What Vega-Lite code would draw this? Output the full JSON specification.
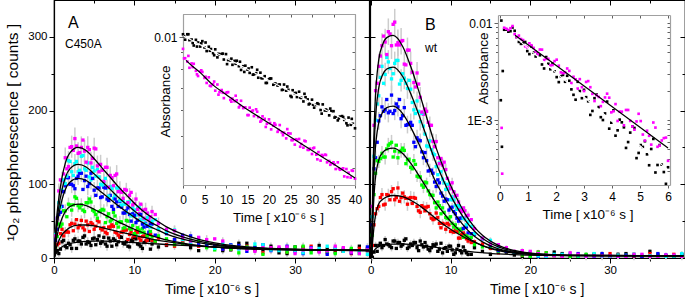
{
"$schema":"https://vega.github.io/schema/vega-lite/v6.json",
"width":631,"height":258,
"autosize":{"type":"none"},
"padding":{"left":54,"top":0,"right":0,"bottom":39},
"background":"white",
"datasets":{
"ma":[
{"s":"k","t":0.2,"v":8,"e":6},{"s":"k","t":0.6,"v":6,"e":6},{"s":"k","t":1,"v":22,"e":6},{"s":"k","t":1.4,"v":16,"e":6},{"s":"k","t":1.8,"v":20,"e":6},{"s":"k","t":2.2,"v":13,"e":6},{"s":"k","t":2.6,"v":26,"e":6},{"s":"k","t":3,"v":23,"e":6},{"s":"k","t":3.4,"v":19,"e":6},{"s":"k","t":3.8,"v":30,"e":6},{"s":"k","t":4.2,"v":22,"e":6},{"s":"k","t":4.6,"v":17,"e":6},{"s":"k","t":5,"v":27,"e":6},{"s":"k","t":5.4,"v":25,"e":6},{"s":"k","t":5.8,"v":20,"e":6},{"s":"k","t":6.2,"v":28,"e":6},{"s":"k","t":6.6,"v":16,"e":6},{"s":"k","t":7,"v":23,"e":6},{"s":"k","t":7.4,"v":26,"e":6},{"s":"k","t":7.8,"v":18,"e":6},{"s":"k","t":8.2,"v":29,"e":6},{"s":"k","t":8.6,"v":20,"e":6},{"s":"k","t":9,"v":22,"e":6},{"s":"k","t":9.4,"v":15,"e":6},{"s":"k","t":9.8,"v":24,"e":6},{"s":"k","t":10.2,"v":26,"e":6},{"s":"k","t":10.6,"v":18,"e":6},{"s":"k","t":11,"v":13,"e":6},{"s":"k","t":11.4,"v":22,"e":6},{"s":"k","t":11.8,"v":24,"e":6},{"s":"k","t":12.2,"v":19,"e":6},{"s":"k","t":13,"v":15,"e":5},{"s":"k","t":15,"v":25,"e":5},{"s":"k","t":17,"v":14,"e":5},{"s":"k","t":19,"v":16,"e":5},{"s":"k","t":21,"v":10,"e":5},{"s":"k","t":23,"v":20,"e":5},{"s":"k","t":25,"v":11,"e":5},{"s":"k","t":27,"v":16,"e":5},{"s":"k","t":29,"v":6,"e":5},{"s":"k","t":31,"v":14,"e":5},{"s":"k","t":33,"v":17,"e":5},{"s":"k","t":35,"v":8,"e":5},{"s":"k","t":37,"v":11,"e":5},{"s":"k","t":39,"v":10,"e":5},
{"s":"r","t":0.2,"v":11,"e":5},{"s":"r","t":0.6,"v":20,"e":6},{"s":"r","t":1,"v":39,"e":6},{"s":"r","t":1.4,"v":35,"e":7},{"s":"r","t":1.8,"v":35,"e":7},{"s":"r","t":2.2,"v":47,"e":7},{"s":"r","t":2.6,"v":46,"e":7},{"s":"r","t":3,"v":41,"e":7},{"s":"r","t":3.4,"v":51,"e":7},{"s":"r","t":3.8,"v":38,"e":7},{"s":"r","t":4.2,"v":45,"e":7},{"s":"r","t":4.6,"v":48,"e":7},{"s":"r","t":5,"v":39,"e":7},{"s":"r","t":5.4,"v":51,"e":7},{"s":"r","t":5.8,"v":40,"e":7},{"s":"r","t":6.2,"v":41,"e":7},{"s":"r","t":6.6,"v":33,"e":7},{"s":"r","t":7,"v":42,"e":7},{"s":"r","t":7.4,"v":43,"e":7},{"s":"r","t":7.8,"v":34,"e":7},{"s":"r","t":8.2,"v":28,"e":7},{"s":"r","t":8.6,"v":36,"e":6},{"s":"r","t":9,"v":38,"e":6},{"s":"r","t":9.4,"v":32,"e":6},{"s":"r","t":9.8,"v":27,"e":6},{"s":"r","t":10.2,"v":37,"e":6},{"s":"r","t":10.6,"v":27,"e":6},{"s":"r","t":11,"v":29,"e":6},{"s":"r","t":11.4,"v":23,"e":6},{"s":"r","t":11.8,"v":32,"e":6},{"s":"r","t":12.2,"v":24,"e":6},{"s":"r","t":13,"v":27,"e":5},{"s":"r","t":15,"v":16,"e":5},{"s":"r","t":17,"v":19,"e":5},{"s":"r","t":19,"v":20,"e":5},{"s":"r","t":21,"v":12,"e":5},{"s":"r","t":23,"v":13,"e":5},{"s":"r","t":25,"v":12,"e":5},{"s":"r","t":27,"v":13,"e":5},{"s":"r","t":29,"v":8,"e":5},{"s":"r","t":31,"v":15,"e":5},{"s":"r","t":33,"v":9,"e":5},{"s":"r","t":35,"v":11,"e":5},{"s":"r","t":37,"v":6,"e":5},{"s":"r","t":39,"v":13,"e":5},
{"s":"g","t":0.2,"v":15,"e":6},{"s":"g","t":0.6,"v":46,"e":7},{"s":"g","t":1,"v":46,"e":8},{"s":"g","t":1.4,"v":64,"e":9},{"s":"g","t":1.8,"v":73,"e":9},{"s":"g","t":2.2,"v":65,"e":9},{"s":"g","t":2.6,"v":83,"e":9},{"s":"g","t":3,"v":71,"e":9},{"s":"g","t":3.4,"v":72,"e":9},{"s":"g","t":3.8,"v":63,"e":9},{"s":"g","t":4.2,"v":75,"e":9},{"s":"g","t":4.6,"v":76,"e":9},{"s":"g","t":5,"v":63,"e":9},{"s":"g","t":5.4,"v":54,"e":9},{"s":"g","t":5.8,"v":64,"e":9},{"s":"g","t":6.2,"v":65,"e":8},{"s":"g","t":6.6,"v":56,"e":8},{"s":"g","t":7,"v":50,"e":8},{"s":"g","t":7.4,"v":62,"e":8},{"s":"g","t":7.8,"v":47,"e":8},{"s":"g","t":8.2,"v":49,"e":8},{"s":"g","t":8.6,"v":40,"e":7},{"s":"g","t":9,"v":51,"e":7},{"s":"g","t":9.4,"v":40,"e":7},{"s":"g","t":9.8,"v":44,"e":7},{"s":"g","t":10.2,"v":31,"e":7},{"s":"g","t":10.6,"v":38,"e":7},{"s":"g","t":11,"v":40,"e":6},{"s":"g","t":11.4,"v":30,"e":6},{"s":"g","t":11.8,"v":32,"e":6},{"s":"g","t":12.2,"v":29,"e":6},{"s":"g","t":13,"v":30,"e":6},{"s":"g","t":15,"v":18,"e":5},{"s":"g","t":17,"v":24,"e":5},{"s":"g","t":19,"v":14,"e":5},{"s":"g","t":21,"v":15,"e":5},{"s":"g","t":23,"v":7,"e":5},{"s":"g","t":25,"v":15,"e":5},{"s":"g","t":27,"v":12,"e":5},{"s":"g","t":29,"v":8,"e":5},{"s":"g","t":31,"v":16,"e":5},{"s":"g","t":33,"v":10,"e":5},{"s":"g","t":35,"v":6,"e":5},{"s":"g","t":37,"v":13,"e":5},{"s":"g","t":39,"v":12,"e":5},
{"s":"b","t":0.2,"v":24,"e":6},{"s":"b","t":0.6,"v":59,"e":9},{"s":"b","t":1,"v":70,"e":10},{"s":"b","t":1.4,"v":98,"e":11},{"s":"b","t":1.8,"v":109,"e":12},{"s":"b","t":2.2,"v":100,"e":12},{"s":"b","t":2.6,"v":94,"e":12},{"s":"b","t":3,"v":111,"e":12},{"s":"b","t":3.4,"v":115,"e":12},{"s":"b","t":3.8,"v":105,"e":12},{"s":"b","t":4.2,"v":97,"e":12},{"s":"b","t":4.6,"v":115,"e":12},{"s":"b","t":5,"v":92,"e":11},{"s":"b","t":5.4,"v":95,"e":11},{"s":"b","t":5.8,"v":82,"e":11},{"s":"b","t":6.2,"v":96,"e":11},{"s":"b","t":6.6,"v":80,"e":10},{"s":"b","t":7,"v":85,"e":10},{"s":"b","t":7.4,"v":66,"e":10},{"s":"b","t":7.8,"v":76,"e":9},{"s":"b","t":8.2,"v":77,"e":9},{"s":"b","t":8.6,"v":61,"e":9},{"s":"b","t":9,"v":64,"e":9},{"s":"b","t":9.4,"v":59,"e":8},{"s":"b","t":9.8,"v":60,"e":8},{"s":"b","t":10.2,"v":48,"e":8},{"s":"b","t":10.6,"v":59,"e":8},{"s":"b","t":11,"v":46,"e":8},{"s":"b","t":11.4,"v":47,"e":7},{"s":"b","t":11.8,"v":35,"e":7},{"s":"b","t":12.2,"v":46,"e":7},{"s":"b","t":13,"v":39,"e":7},{"s":"b","t":15,"v":25,"e":6},{"s":"b","t":17,"v":30,"e":6},{"s":"b","t":19,"v":18,"e":5},{"s":"b","t":21,"v":12,"e":5},{"s":"b","t":23,"v":17,"e":5},{"s":"b","t":25,"v":14,"e":5},{"s":"b","t":27,"v":10,"e":5},{"s":"b","t":29,"v":16,"e":5},{"s":"b","t":31,"v":6,"e":5},{"s":"b","t":33,"v":11,"e":5},{"s":"b","t":35,"v":13,"e":5},{"s":"b","t":37,"v":7,"e":5},{"s":"b","t":39,"v":15,"e":5},
{"s":"c","t":0.2,"v":32,"e":7},{"s":"c","t":0.6,"v":75,"e":9},{"s":"c","t":1,"v":92,"e":11},{"s":"c","t":1.4,"v":101,"e":12},{"s":"c","t":1.8,"v":132,"e":13},{"s":"c","t":2.2,"v":117,"e":13},{"s":"c","t":2.6,"v":128,"e":13},{"s":"c","t":3,"v":117,"e":14},{"s":"c","t":3.4,"v":138,"e":13},{"s":"c","t":3.8,"v":121,"e":13},{"s":"c","t":4.2,"v":129,"e":13},{"s":"c","t":4.6,"v":106,"e":13},{"s":"c","t":5,"v":118,"e":13},{"s":"c","t":5.4,"v":120,"e":12},{"s":"c","t":5.8,"v":100,"e":12},{"s":"c","t":6.2,"v":102,"e":12},{"s":"c","t":6.6,"v":95,"e":11},{"s":"c","t":7,"v":97,"e":11},{"s":"c","t":7.4,"v":81,"e":11},{"s":"c","t":7.8,"v":95,"e":10},{"s":"c","t":8.2,"v":78,"e":10},{"s":"c","t":8.6,"v":78,"e":10},{"s":"c","t":9,"v":62,"e":9},{"s":"c","t":9.4,"v":76,"e":9},{"s":"c","t":9.8,"v":68,"e":9},{"s":"c","t":10.2,"v":58,"e":9},{"s":"c","t":10.6,"v":69,"e":8},{"s":"c","t":11,"v":54,"e":8},{"s":"c","t":11.4,"v":46,"e":8},{"s":"c","t":11.8,"v":55,"e":8},{"s":"c","t":12.2,"v":50,"e":7},{"s":"c","t":13,"v":39,"e":7},{"s":"c","t":15,"v":38,"e":6},{"s":"c","t":17,"v":20,"e":6},{"s":"c","t":19,"v":21,"e":5},{"s":"c","t":21,"v":20,"e":5},{"s":"c","t":23,"v":12,"e":5},{"s":"c","t":25,"v":19,"e":5},{"s":"c","t":27,"v":11,"e":5},{"s":"c","t":29,"v":12,"e":5},{"s":"c","t":31,"v":7,"e":5},{"s":"c","t":33,"v":13,"e":5},{"s":"c","t":35,"v":14,"e":5},{"s":"c","t":37,"v":9,"e":5},{"s":"c","t":39,"v":5,"e":5},
{"s":"m","t":0.2,"v":30,"e":7},{"s":"m","t":0.6,"v":91,"e":10},{"s":"m","t":1,"v":105,"e":12},{"s":"m","t":1.4,"v":136,"e":14},{"s":"m","t":1.8,"v":124,"e":15},{"s":"m","t":2.2,"v":151,"e":15},{"s":"m","t":2.6,"v":162,"e":15},{"s":"m","t":3,"v":142,"e":15},{"s":"m","t":3.4,"v":150,"e":15},{"s":"m","t":3.8,"v":145,"e":15},{"s":"m","t":4.2,"v":150,"e":15},{"s":"m","t":4.6,"v":129,"e":15},{"s":"m","t":5,"v":149,"e":14},{"s":"m","t":5.4,"v":125,"e":14},{"s":"m","t":5.8,"v":127,"e":13},{"s":"m","t":6.2,"v":104,"e":13},{"s":"m","t":6.6,"v":123,"e":13},{"s":"m","t":7,"v":112,"e":12},{"s":"m","t":7.4,"v":98,"e":12},{"s":"m","t":7.8,"v":114,"e":12},{"s":"m","t":8.2,"v":93,"e":11},{"s":"m","t":8.6,"v":81,"e":11},{"s":"m","t":9,"v":92,"e":10},{"s":"m","t":9.4,"v":85,"e":10},{"s":"m","t":9.8,"v":72,"e":10},{"s":"m","t":10.2,"v":80,"e":9},{"s":"m","t":10.6,"v":60,"e":9},{"s":"m","t":11,"v":65,"e":9},{"s":"m","t":11.4,"v":66,"e":9},{"s":"m","t":11.8,"v":52,"e":8},{"s":"m","t":12.2,"v":63,"e":8},{"s":"m","t":13,"v":47,"e":8},{"s":"m","t":15,"v":37,"e":7},{"s":"m","t":17,"v":23,"e":6},{"s":"m","t":19,"v":25,"e":6},{"s":"m","t":21,"v":23,"e":5},{"s":"m","t":23,"v":14,"e":5},{"s":"m","t":25,"v":9,"e":5},{"s":"m","t":27,"v":14,"e":5},{"s":"m","t":29,"v":15,"e":5},{"s":"m","t":31,"v":11,"e":5},{"s":"m","t":33,"v":8,"e":5},{"s":"m","t":35,"v":16,"e":5},{"s":"m","t":37,"v":8,"e":5},{"s":"m","t":39,"v":11,"e":5}
],
"ma2":[
{"s":"k","t":0.4,"v":10},{"s":"k","t":0.8,"v":12},{"s":"k","t":1.2,"v":24},{"s":"k","t":1.6,"v":14},{"s":"k","t":2,"v":18},{"s":"k","t":2.4,"v":24},{"s":"k","t":2.8,"v":13},{"s":"k","t":3.2,"v":23},{"s":"k","t":3.6,"v":28},{"s":"k","t":4,"v":19},{"s":"k","t":4.4,"v":21},{"s":"k","t":4.8,"v":26},{"s":"k","t":5.2,"v":18},{"s":"k","t":5.6,"v":30},{"s":"k","t":6,"v":22},{"s":"k","t":6.4,"v":19},{"s":"k","t":6.8,"v":27},{"s":"k","t":7.2,"v":16},{"s":"k","t":7.6,"v":24},{"s":"k","t":8,"v":22},{"s":"k","t":8.4,"v":28},{"s":"k","t":8.8,"v":19},{"s":"k","t":9.2,"v":16},{"s":"k","t":9.6,"v":24},{"s":"k","t":10,"v":28},{"s":"k","t":10.4,"v":19},{"s":"k","t":10.8,"v":16},{"s":"k","t":11.2,"v":21},{"s":"k","t":11.6,"v":24},{"s":"k","t":12,"v":12},{"s":"k","t":12.6,"v":22},{"s":"k","t":14,"v":17},{"s":"k","t":16,"v":22},{"s":"k","t":18,"v":10},{"s":"k","t":20,"v":17},{"s":"k","t":22,"v":11},{"s":"k","t":24,"v":20},{"s":"k","t":26,"v":11},{"s":"k","t":28,"v":7},{"s":"k","t":30,"v":15},{"s":"k","t":32,"v":11},{"s":"k","t":34,"v":12},{"s":"k","t":36,"v":9},{"s":"k","t":38,"v":16},
{"s":"r","t":0.4,"v":18},{"s":"r","t":0.8,"v":33},{"s":"r","t":1.2,"v":30},{"s":"r","t":1.6,"v":36},{"s":"r","t":2,"v":45},{"s":"r","t":2.4,"v":37},{"s":"r","t":2.8,"v":52},{"s":"r","t":3.2,"v":44},{"s":"r","t":3.6,"v":41},{"s":"r","t":4,"v":50},{"s":"r","t":4.4,"v":36},{"s":"r","t":4.8,"v":46},{"s":"r","t":5.2,"v":43},{"s":"r","t":5.6,"v":49},{"s":"r","t":6,"v":38},{"s":"r","t":6.4,"v":35},{"s":"r","t":6.8,"v":42},{"s":"r","t":7.2,"v":45},{"s":"r","t":7.6,"v":35},{"s":"r","t":8,"v":31},{"s":"r","t":8.4,"v":35},{"s":"r","t":8.8,"v":38},{"s":"r","t":9.2,"v":25},{"s":"r","t":9.6,"v":35},{"s":"r","t":10,"v":30},{"s":"r","t":10.4,"v":35},{"s":"r","t":10.8,"v":24},{"s":"r","t":11.2,"v":30},{"s":"r","t":11.6,"v":24},{"s":"r","t":12,"v":32},{"s":"r","t":12.6,"v":23},{"s":"r","t":14,"v":18},{"s":"r","t":16,"v":22},{"s":"r","t":18,"v":16},{"s":"r","t":20,"v":16},{"s":"r","t":22,"v":12},{"s":"r","t":24,"v":16},{"s":"r","t":26,"v":7},{"s":"r","t":28,"v":13},{"s":"r","t":30,"v":10},{"s":"r","t":32,"v":16},{"s":"r","t":34,"v":7},{"s":"r","t":36,"v":9},{"s":"r","t":38,"v":13},
{"s":"g","t":0.4,"v":29},{"s":"g","t":0.8,"v":43},{"s":"g","t":1.2,"v":64},{"s":"g","t":1.6,"v":56},{"s":"g","t":2,"v":72},{"s":"g","t":2.4,"v":72},{"s":"g","t":2.8,"v":81},{"s":"g","t":3.2,"v":68},{"s":"g","t":3.6,"v":65},{"s":"g","t":4,"v":75},{"s":"g","t":4.4,"v":80},{"s":"g","t":4.8,"v":65},{"s":"g","t":5.2,"v":59},{"s":"g","t":5.6,"v":63},{"s":"g","t":6,"v":66},{"s":"g","t":6.4,"v":48},{"s":"g","t":6.8,"v":60},{"s":"g","t":7.2,"v":52},{"s":"g","t":7.6,"v":57},{"s":"g","t":8,"v":42},{"s":"g","t":8.4,"v":49},{"s":"g","t":8.8,"v":41},{"s":"g","t":9.2,"v":50},{"s":"g","t":9.6,"v":39},{"s":"g","t":10,"v":33},{"s":"g","t":10.4,"v":41},{"s":"g","t":10.8,"v":35},{"s":"g","t":11.2,"v":35},{"s":"g","t":11.6,"v":30},{"s":"g","t":12,"v":36},{"s":"g","t":12.6,"v":23},{"s":"g","t":14,"v":26},{"s":"g","t":16,"v":19},{"s":"g","t":18,"v":23},{"s":"g","t":20,"v":11},{"s":"g","t":22,"v":12},{"s":"g","t":24,"v":15},{"s":"g","t":26,"v":5},{"s":"g","t":28,"v":12},{"s":"g","t":30,"v":15},{"s":"g","t":32,"v":7},{"s":"g","t":34,"v":9},{"s":"g","t":36,"v":13},{"s":"g","t":38,"v":6},
{"s":"b","t":0.4,"v":39},{"s":"b","t":0.8,"v":62},{"s":"b","t":1.2,"v":90},{"s":"b","t":1.6,"v":109},{"s":"b","t":2,"v":100},{"s":"b","t":2.4,"v":98},{"s":"b","t":2.8,"v":108},{"s":"b","t":3.2,"v":115},{"s":"b","t":3.6,"v":93},{"s":"b","t":4,"v":111},{"s":"b","t":4.4,"v":101},{"s":"b","t":4.8,"v":108},{"s":"b","t":5.2,"v":85},{"s":"b","t":5.6,"v":95},{"s":"b","t":6,"v":83},{"s":"b","t":6.4,"v":95},{"s":"b","t":6.8,"v":78},{"s":"b","t":7.2,"v":70},{"s":"b","t":7.6,"v":80},{"s":"b","t":8,"v":70},{"s":"b","t":8.4,"v":69},{"s":"b","t":8.8,"v":61},{"s":"b","t":9.2,"v":68},{"s":"b","t":9.6,"v":50},{"s":"b","t":10,"v":58},{"s":"b","t":10.4,"v":51},{"s":"b","t":10.8,"v":59},{"s":"b","t":11.2,"v":42},{"s":"b","t":11.6,"v":43},{"s":"b","t":12,"v":46},{"s":"b","t":12.6,"v":31},{"s":"b","t":14,"v":33},{"s":"b","t":16,"v":31},{"s":"b","t":18,"v":18},{"s":"b","t":20,"v":16},{"s":"b","t":22,"v":18},{"s":"b","t":24,"v":9},{"s":"b","t":26,"v":18},{"s":"b","t":28,"v":12},{"s":"b","t":30,"v":9},{"s":"b","t":32,"v":14},{"s":"b","t":34,"v":5},{"s":"b","t":36,"v":11},{"s":"b","t":38,"v":10},
{"s":"c","t":0.4,"v":54},{"s":"c","t":0.8,"v":69},{"s":"c","t":1.2,"v":106},{"s":"c","t":1.6,"v":111},{"s":"c","t":2,"v":131},{"s":"c","t":2.4,"v":112},{"s":"c","t":2.8,"v":131},{"s":"c","t":3.2,"v":119},{"s":"c","t":3.6,"v":139},{"s":"c","t":4,"v":119},{"s":"c","t":4.4,"v":110},{"s":"c","t":4.8,"v":123},{"s":"c","t":5.2,"v":111},{"s":"c","t":5.6,"v":110},{"s":"c","t":6,"v":99},{"s":"c","t":6.4,"v":108},{"s":"c","t":6.8,"v":84},{"s":"c","t":7.2,"v":94},{"s":"c","t":7.6,"v":85},{"s":"c","t":8,"v":95},{"s":"c","t":8.4,"v":72},{"s":"c","t":8.8,"v":73},{"s":"c","t":9.2,"v":76},{"s":"c","t":9.6,"v":57},{"s":"c","t":10,"v":65},{"s":"c","t":10.4,"v":68},{"s":"c","t":10.8,"v":52},{"s":"c","t":11.2,"v":52},{"s":"c","t":11.6,"v":55},{"s":"c","t":12,"v":42},{"s":"c","t":12.6,"v":52},{"s":"c","t":14,"v":36},{"s":"c","t":16,"v":25},{"s":"c","t":18,"v":27},{"s":"c","t":20,"v":13},{"s":"c","t":22,"v":17},{"s":"c","t":24,"v":14},{"s":"c","t":26,"v":18},{"s":"c","t":28,"v":10},{"s":"c","t":30,"v":8},{"s":"c","t":32,"v":13},{"s":"c","t":34,"v":16},{"s":"c","t":36,"v":9},{"s":"c","t":38,"v":7},
{"s":"m","t":0.4,"v":54},{"s":"m","t":0.8,"v":106},{"s":"m","t":1.2,"v":114},{"s":"m","t":1.6,"v":121},{"s":"m","t":2,"v":150},{"s":"m","t":2.4,"v":146},{"s":"m","t":2.8,"v":152},{"s":"m","t":3.2,"v":143},{"s":"m","t":3.6,"v":160},{"s":"m","t":4,"v":130},{"s":"m","t":4.4,"v":147},{"s":"m","t":4.8,"v":135},{"s":"m","t":5.2,"v":148},{"s":"m","t":5.6,"v":117},{"s":"m","t":6,"v":119},{"s":"m","t":6.4,"v":123},{"s":"m","t":6.8,"v":96},{"s":"m","t":7.2,"v":109},{"s":"m","t":7.6,"v":112},{"s":"m","t":8,"v":90},{"s":"m","t":8.4,"v":89},{"s":"m","t":8.8,"v":93},{"s":"m","t":9.2,"v":75},{"s":"m","t":9.6,"v":89},{"s":"m","t":10,"v":74},{"s":"m","t":10.4,"v":66},{"s":"m","t":10.8,"v":73},{"s":"m","t":11.2,"v":54},{"s":"m","t":11.6,"v":61},{"s":"m","t":12,"v":56},{"s":"m","t":12.6,"v":59},{"s":"m","t":14,"v":39},{"s":"m","t":16,"v":28},{"s":"m","t":18,"v":28},{"s":"m","t":20,"v":26},{"s":"m","t":22,"v":16},{"s":"m","t":24,"v":12},{"s":"m","t":26,"v":14},{"s":"m","t":28,"v":15},{"s":"m","t":30,"v":6},{"s":"m","t":32,"v":13},{"s":"m","t":34,"v":10},{"s":"m","t":36,"v":14},{"s":"m","t":38,"v":6}
],
"mb":[
{"s":"k","t":0.2,"v":1,"e":5},{"s":"k","t":0.6,"v":17,"e":5},{"s":"k","t":1,"v":17,"e":5},{"s":"k","t":1.4,"v":14,"e":5},{"s":"k","t":1.8,"v":25,"e":5},{"s":"k","t":2.2,"v":18,"e":5},{"s":"k","t":2.6,"v":14,"e":5},{"s":"k","t":3,"v":23,"e":5},{"s":"k","t":3.4,"v":21,"e":5},{"s":"k","t":3.8,"v":16,"e":5},{"s":"k","t":4.2,"v":24,"e":5},{"s":"k","t":4.6,"v":13,"e":5},{"s":"k","t":5,"v":19,"e":5},{"s":"k","t":5.4,"v":21,"e":5},{"s":"k","t":5.8,"v":14,"e":5},{"s":"k","t":6.2,"v":23,"e":5},{"s":"k","t":6.6,"v":15,"e":5},{"s":"k","t":7,"v":16,"e":5},{"s":"k","t":7.4,"v":10,"e":5},{"s":"k","t":7.8,"v":18,"e":5},{"s":"k","t":8.2,"v":19,"e":5},{"s":"k","t":8.6,"v":12,"e":5},{"s":"k","t":9,"v":7,"e":5},{"s":"k","t":9.4,"v":14,"e":5},{"s":"k","t":9.8,"v":16,"e":5},{"s":"k","t":10.2,"v":11,"e":5},{"s":"k","t":10.6,"v":7,"e":5},{"s":"k","t":11,"v":17,"e":5},{"s":"k","t":11.4,"v":7,"e":5},{"s":"k","t":11.8,"v":10,"e":5},{"s":"k","t":12.2,"v":5,"e":5},{"s":"k","t":13,"v":14,"e":3},{"s":"k","t":15,"v":5,"e":3},{"s":"k","t":17,"v":8,"e":3},{"s":"k","t":19,"v":0,"e":3},{"s":"k","t":21,"v":6,"e":3},{"s":"k","t":23,"v":8,"e":3},{"s":"k","t":25,"v":0,"e":3},{"s":"k","t":27,"v":4,"e":3},{"s":"k","t":29,"v":2,"e":3},{"s":"k","t":31,"v":5,"e":3},{"s":"k","t":33,"v":0,"e":3},{"s":"k","t":35,"v":9,"e":3},{"s":"k","t":37,"v":1,"e":3},{"s":"k","t":39,"v":4,"e":3},
{"s":"r","t":0.2,"v":17,"e":4},{"s":"r","t":0.6,"v":60,"e":7},{"s":"r","t":1,"v":70,"e":8},{"s":"r","t":1.4,"v":86,"e":9},{"s":"r","t":1.8,"v":73,"e":9},{"s":"r","t":2.2,"v":85,"e":9},{"s":"r","t":2.6,"v":90,"e":9},{"s":"r","t":3,"v":79,"e":9},{"s":"r","t":3.4,"v":95,"e":9},{"s":"r","t":3.8,"v":82,"e":9},{"s":"r","t":4.2,"v":83,"e":9},{"s":"r","t":4.6,"v":73,"e":9},{"s":"r","t":5,"v":82,"e":9},{"s":"r","t":5.4,"v":82,"e":8},{"s":"r","t":5.8,"v":70,"e":8},{"s":"r","t":6.2,"v":62,"e":8},{"s":"r","t":6.6,"v":69,"e":8},{"s":"r","t":7,"v":69,"e":7},{"s":"r","t":7.4,"v":60,"e":7},{"s":"r","t":7.8,"v":52,"e":7},{"s":"r","t":8.2,"v":61,"e":7},{"s":"r","t":8.6,"v":47,"e":6},{"s":"r","t":9,"v":47,"e":6},{"s":"r","t":9.4,"v":39,"e":6},{"s":"r","t":9.8,"v":45,"e":6},{"s":"r","t":10.2,"v":36,"e":5},{"s":"r","t":10.6,"v":38,"e":5},{"s":"r","t":11,"v":27,"e":5},{"s":"r","t":11.4,"v":32,"e":5},{"s":"r","t":11.8,"v":31,"e":5},{"s":"r","t":12.2,"v":23,"e":4},{"s":"r","t":13,"v":22,"e":4},{"s":"r","t":15,"v":13,"e":3},{"s":"r","t":17,"v":10,"e":3},{"s":"r","t":19,"v":4,"e":3},{"s":"r","t":21,"v":8,"e":3},{"s":"r","t":23,"v":3,"e":3},{"s":"r","t":25,"v":4,"e":3},{"s":"r","t":27,"v":0,"e":3},{"s":"r","t":29,"v":5,"e":3},{"s":"r","t":31,"v":4,"e":3},{"s":"r","t":33,"v":2,"e":3},{"s":"r","t":35,"v":6,"e":3},{"s":"r","t":37,"v":3,"e":3},{"s":"r","t":39,"v":1,"e":3},
{"s":"g","t":0.2,"v":31,"e":4},{"s":"g","t":0.6,"v":115,"e":8},{"s":"g","t":1,"v":131,"e":9},{"s":"g","t":1.4,"v":142,"e":10},{"s":"g","t":1.8,"v":137,"e":10},{"s":"g","t":2.2,"v":153,"e":10},{"s":"g","t":2.6,"v":157,"e":10},{"s":"g","t":3,"v":145,"e":10},{"s":"g","t":3.4,"v":136,"e":10},{"s":"g","t":3.8,"v":146,"e":10},{"s":"g","t":4.2,"v":146,"e":10},{"s":"g","t":4.6,"v":133,"e":9},{"s":"g","t":5,"v":123,"e":9},{"s":"g","t":5.4,"v":132,"e":9},{"s":"g","t":5.8,"v":111,"e":8},{"s":"g","t":6.2,"v":110,"e":8},{"s":"g","t":6.6,"v":96,"e":8},{"s":"g","t":7,"v":102,"e":7},{"s":"g","t":7.4,"v":86,"e":7},{"s":"g","t":7.8,"v":85,"e":7},{"s":"g","t":8.2,"v":68,"e":6},{"s":"g","t":8.6,"v":71,"e":6},{"s":"g","t":9,"v":68,"e":6},{"s":"g","t":9.4,"v":55,"e":5},{"s":"g","t":9.8,"v":53,"e":5},{"s":"g","t":10.2,"v":47,"e":5},{"s":"g","t":10.6,"v":45,"e":5},{"s":"g","t":11,"v":35,"e":4},{"s":"g","t":11.4,"v":39,"e":4},{"s":"g","t":11.8,"v":30,"e":4},{"s":"g","t":12.2,"v":28,"e":4},{"s":"g","t":13,"v":18,"e":4},{"s":"g","t":15,"v":15,"e":3},{"s":"g","t":17,"v":9,"e":3},{"s":"g","t":19,"v":4,"e":3},{"s":"g","t":21,"v":8,"e":3},{"s":"g","t":23,"v":3,"e":3},{"s":"g","t":25,"v":1,"e":3},{"s":"g","t":27,"v":5,"e":3},{"s":"g","t":29,"v":4,"e":3},{"s":"g","t":31,"v":2,"e":3},{"s":"g","t":33,"v":5,"e":3},{"s":"g","t":35,"v":0,"e":3},{"s":"g","t":37,"v":3,"e":3},{"s":"g","t":39,"v":4,"e":3},
{"s":"b","t":0.2,"v":45,"e":5},{"s":"b","t":0.6,"v":136,"e":10},{"s":"b","t":1,"v":186,"e":12},{"s":"b","t":1.4,"v":205,"e":13},{"s":"b","t":1.8,"v":201,"e":13},{"s":"b","t":2.2,"v":197,"e":13},{"s":"b","t":2.6,"v":221,"e":13},{"s":"b","t":3,"v":200,"e":13},{"s":"b","t":3.4,"v":205,"e":13},{"s":"b","t":3.8,"v":189,"e":13},{"s":"b","t":4.2,"v":204,"e":12},{"s":"b","t":4.6,"v":181,"e":12},{"s":"b","t":5,"v":184,"e":12},{"s":"b","t":5.4,"v":157,"e":11},{"s":"b","t":5.8,"v":163,"e":11},{"s":"b","t":6.2,"v":159,"e":10},{"s":"b","t":6.6,"v":136,"e":10},{"s":"b","t":7,"v":132,"e":9},{"s":"b","t":7.4,"v":119,"e":9},{"s":"b","t":7.8,"v":115,"e":8},{"s":"b","t":8.2,"v":97,"e":8},{"s":"b","t":8.6,"v":102,"e":7},{"s":"b","t":9,"v":84,"e":7},{"s":"b","t":9.4,"v":80,"e":7},{"s":"b","t":9.8,"v":65,"e":6},{"s":"b","t":10.2,"v":69,"e":6},{"s":"b","t":10.6,"v":60,"e":5},{"s":"b","t":11,"v":50,"e":5},{"s":"b","t":11.4,"v":54,"e":5},{"s":"b","t":11.8,"v":42,"e":5},{"s":"b","t":12.2,"v":34,"e":4},{"s":"b","t":13,"v":32,"e":4},{"s":"b","t":15,"v":17,"e":3},{"s":"b","t":17,"v":9,"e":3},{"s":"b","t":19,"v":9,"e":3},{"s":"b","t":21,"v":2,"e":3},{"s":"b","t":23,"v":4,"e":3},{"s":"b","t":25,"v":5,"e":3},{"s":"b","t":27,"v":1,"e":3},{"s":"b","t":29,"v":6,"e":3},{"s":"b","t":31,"v":2,"e":3},{"s":"b","t":33,"v":3,"e":3},{"s":"b","t":35,"v":1,"e":3},{"s":"b","t":37,"v":4,"e":3},{"s":"b","t":39,"v":5,"e":3},
{"s":"c","t":0.2,"v":56,"e":5},{"s":"c","t":0.6,"v":187,"e":12},{"s":"c","t":1,"v":220,"e":14},{"s":"c","t":1.4,"v":260,"e":15},{"s":"c","t":1.8,"v":249,"e":16},{"s":"c","t":2.2,"v":266,"e":16},{"s":"c","t":2.6,"v":243,"e":16},{"s":"c","t":3,"v":264,"e":16},{"s":"c","t":3.4,"v":268,"e":16},{"s":"c","t":3.8,"v":241,"e":15},{"s":"c","t":4.2,"v":244,"e":15},{"s":"c","t":4.6,"v":230,"e":14},{"s":"c","t":5,"v":229,"e":14},{"s":"c","t":5.4,"v":201,"e":13},{"s":"c","t":5.8,"v":213,"e":13},{"s":"c","t":6.2,"v":185,"e":12},{"s":"c","t":6.6,"v":179,"e":12},{"s":"c","t":7,"v":152,"e":11},{"s":"c","t":7.4,"v":159,"e":10},{"s":"c","t":7.8,"v":142,"e":10},{"s":"c","t":8.2,"v":124,"e":9},{"s":"c","t":8.6,"v":129,"e":9},{"s":"c","t":9,"v":107,"e":8},{"s":"c","t":9.4,"v":93,"e":8},{"s":"c","t":9.8,"v":94,"e":7},{"s":"c","t":10.2,"v":83,"e":7},{"s":"c","t":10.6,"v":71,"e":6},{"s":"c","t":11,"v":71,"e":6},{"s":"c","t":11.4,"v":54,"e":5},{"s":"c","t":11.8,"v":53,"e":5},{"s":"c","t":12.2,"v":49,"e":5},{"s":"c","t":13,"v":33,"e":4},{"s":"c","t":15,"v":24,"e":4},{"s":"c","t":17,"v":11,"e":3},{"s":"c","t":19,"v":7,"e":3},{"s":"c","t":21,"v":3,"e":3},{"s":"c","t":23,"v":5,"e":3},{"s":"c","t":25,"v":6,"e":3},{"s":"c","t":27,"v":2,"e":3},{"s":"c","t":29,"v":0,"e":3},{"s":"c","t":31,"v":4,"e":3},{"s":"c","t":33,"v":5,"e":3},{"s":"c","t":35,"v":3,"e":3},{"s":"c","t":37,"v":1,"e":3},{"s":"c","t":39,"v":6,"e":3},
{"s":"m","t":0.2,"v":70,"e":6},{"s":"m","t":0.6,"v":227,"e":14},{"s":"m","t":1,"v":260,"e":17},{"s":"m","t":1.4,"v":288,"e":17},{"s":"m","t":1.8,"v":293,"e":18},{"s":"m","t":2.2,"v":307,"e":18},{"s":"m","t":2.6,"v":288,"e":18},{"s":"m","t":3,"v":320,"e":18},{"s":"m","t":3.4,"v":292,"e":18},{"s":"m","t":3.8,"v":294,"e":18},{"s":"m","t":4.2,"v":263,"e":17},{"s":"m","t":4.6,"v":282,"e":17},{"s":"m","t":5,"v":264,"e":16},{"s":"m","t":5.4,"v":238,"e":15},{"s":"m","t":5.8,"v":251,"e":15},{"s":"m","t":6.2,"v":218,"e":14},{"s":"m","t":6.6,"v":195,"e":13},{"s":"m","t":7,"v":199,"e":12},{"s":"m","t":7.4,"v":180,"e":12},{"s":"m","t":7.8,"v":158,"e":11},{"s":"m","t":8.2,"v":158,"e":10},{"s":"m","t":8.6,"v":128,"e":10},{"s":"m","t":9,"v":126,"e":9},{"s":"m","t":9.4,"v":120,"e":8},{"s":"m","t":9.8,"v":99,"e":8},{"s":"m","t":10.2,"v":102,"e":7},{"s":"m","t":10.6,"v":84,"e":7},{"s":"m","t":11,"v":76,"e":6},{"s":"m","t":11.4,"v":63,"e":6},{"s":"m","t":11.8,"v":64,"e":6},{"s":"m","t":12.2,"v":58,"e":5},{"s":"m","t":13,"v":40,"e":5},{"s":"m","t":15,"v":19,"e":4},{"s":"m","t":17,"v":14,"e":3},{"s":"m","t":19,"v":10,"e":3},{"s":"m","t":21,"v":6,"e":3},{"s":"m","t":23,"v":3,"e":3},{"s":"m","t":25,"v":7,"e":3},{"s":"m","t":27,"v":2,"e":3},{"s":"m","t":29,"v":3,"e":3},{"s":"m","t":31,"v":1,"e":3},{"s":"m","t":33,"v":5,"e":3},{"s":"m","t":35,"v":2,"e":3},{"s":"m","t":37,"v":4,"e":3},{"s":"m","t":39,"v":0,"e":3}
],
"mb2":[
{"s":"k","t":0.4,"v":8},{"s":"k","t":0.8,"v":9},{"s":"k","t":1.2,"v":20},{"s":"k","t":1.6,"v":17},{"s":"k","t":2,"v":19},{"s":"k","t":2.4,"v":16},{"s":"k","t":2.8,"v":23},{"s":"k","t":3.2,"v":13},{"s":"k","t":3.6,"v":21},{"s":"k","t":4,"v":18},{"s":"k","t":4.4,"v":26},{"s":"k","t":4.8,"v":15},{"s":"k","t":5.2,"v":17},{"s":"k","t":5.6,"v":21},{"s":"k","t":6,"v":10},{"s":"k","t":6.4,"v":18},{"s":"k","t":6.8,"v":21},{"s":"k","t":7.2,"v":12},{"s":"k","t":7.6,"v":14},{"s":"k","t":8,"v":17},{"s":"k","t":8.4,"v":9},{"s":"k","t":8.8,"v":20},{"s":"k","t":9.2,"v":13},{"s":"k","t":9.6,"v":9},{"s":"k","t":10,"v":16},{"s":"k","t":10.4,"v":5},{"s":"k","t":10.8,"v":12},{"s":"k","t":11.2,"v":10},{"s":"k","t":11.6,"v":15},{"s":"k","t":12,"v":7},{"s":"k","t":12.6,"v":5},{"s":"k","t":14,"v":9},{"s":"k","t":16,"v":10},{"s":"k","t":18,"v":4},{"s":"k","t":20,"v":1},{"s":"k","t":22,"v":4},{"s":"k","t":24,"v":6},{"s":"k","t":26,"v":0},{"s":"k","t":28,"v":5},{"s":"k","t":30,"v":2},{"s":"k","t":32,"v":6},{"s":"k","t":34,"v":0},{"s":"k","t":36,"v":4},{"s":"k","t":38,"v":1},
{"s":"r","t":0.4,"v":45},{"s":"r","t":0.8,"v":67},{"s":"r","t":1.2,"v":82},{"s":"r","t":1.6,"v":72},{"s":"r","t":2,"v":86},{"s":"r","t":2.4,"v":79},{"s":"r","t":2.8,"v":94},{"s":"r","t":3.2,"v":82},{"s":"r","t":3.6,"v":77},{"s":"r","t":4,"v":88},{"s":"r","t":4.4,"v":81},{"s":"r","t":4.8,"v":81},{"s":"r","t":5.2,"v":74},{"s":"r","t":5.6,"v":81},{"s":"r","t":6,"v":64},{"s":"r","t":6.4,"v":71},{"s":"r","t":6.8,"v":64},{"s":"r","t":7.2,"v":70},{"s":"r","t":7.6,"v":54},{"s":"r","t":8,"v":53},{"s":"r","t":8.4,"v":55},{"s":"r","t":8.8,"v":41},{"s":"r","t":9.2,"v":46},{"s":"r","t":9.6,"v":47},{"s":"r","t":10,"v":36},{"s":"r","t":10.4,"v":35},{"s":"r","t":10.8,"v":36},{"s":"r","t":11.2,"v":27},{"s":"r","t":11.6,"v":34},{"s":"r","t":12,"v":26},{"s":"r","t":12.6,"v":21},{"s":"r","t":14,"v":19},{"s":"r","t":16,"v":7},{"s":"r","t":18,"v":8},{"s":"r","t":20,"v":6},{"s":"r","t":22,"v":7},{"s":"r","t":24,"v":3},{"s":"r","t":26,"v":1},{"s":"r","t":28,"v":4},{"s":"r","t":30,"v":6},{"s":"r","t":32,"v":2},{"s":"r","t":34,"v":1},{"s":"r","t":36,"v":3},{"s":"r","t":38,"v":5},
{"s":"g","t":0.4,"v":86},{"s":"g","t":0.8,"v":132},{"s":"g","t":1.2,"v":135},{"s":"g","t":1.6,"v":137},{"s":"g","t":2,"v":148},{"s":"g","t":2.4,"v":155},{"s":"g","t":2.8,"v":137},{"s":"g","t":3.2,"v":153},{"s":"g","t":3.6,"v":144},{"s":"g","t":4,"v":149},{"s":"g","t":4.4,"v":128},{"s":"g","t":4.8,"v":134},{"s":"g","t":5.2,"v":121},{"s":"g","t":5.6,"v":127},{"s":"g","t":6,"v":110},{"s":"g","t":6.4,"v":99},{"s":"g","t":6.8,"v":103},{"s":"g","t":7.2,"v":91},{"s":"g","t":7.6,"v":85},{"s":"g","t":8,"v":75},{"s":"g","t":8.4,"v":76},{"s":"g","t":8.8,"v":60},{"s":"g","t":9.2,"v":62},{"s":"g","t":9.6,"v":54},{"s":"g","t":10,"v":56},{"s":"g","t":10.4,"v":42},{"s":"g","t":10.8,"v":40},{"s":"g","t":11.2,"v":39},{"s":"g","t":11.6,"v":28},{"s":"g","t":12,"v":30},{"s":"g","t":12.6,"v":28},{"s":"g","t":14,"v":15},{"s":"g","t":16,"v":9},{"s":"g","t":18,"v":8},{"s":"g","t":20,"v":2},{"s":"g","t":22,"v":7},{"s":"g","t":24,"v":3},{"s":"g","t":26,"v":2},{"s":"g","t":28,"v":5},{"s":"g","t":30,"v":0},{"s":"g","t":32,"v":4},{"s":"g","t":34,"v":3},{"s":"g","t":36,"v":5},{"s":"g","t":38,"v":2},
{"s":"b","t":0.4,"v":121},{"s":"b","t":0.8,"v":157},{"s":"b","t":1.2,"v":193},{"s":"b","t":1.6,"v":199},{"s":"b","t":2,"v":215},{"s":"b","t":2.4,"v":199},{"s":"b","t":2.8,"v":196},{"s":"b","t":3.2,"v":209},{"s":"b","t":3.6,"v":215},{"s":"b","t":4,"v":193},{"s":"b","t":4.4,"v":180},{"s":"b","t":4.8,"v":182},{"s":"b","t":5.2,"v":180},{"s":"b","t":5.6,"v":151},{"s":"b","t":6,"v":160},{"s":"b","t":6.4,"v":144},{"s":"b","t":6.8,"v":143},{"s":"b","t":7.2,"v":118},{"s":"b","t":7.6,"v":119},{"s":"b","t":8,"v":103},{"s":"b","t":8.4,"v":106},{"s":"b","t":8.8,"v":88},{"s":"b","t":9.2,"v":77},{"s":"b","t":9.6,"v":79},{"s":"b","t":10,"v":68},{"s":"b","t":10.4,"v":63},{"s":"b","t":10.8,"v":54},{"s":"b","t":11.2,"v":54},{"s":"b","t":11.6,"v":40},{"s":"b","t":12,"v":42},{"s":"b","t":12.6,"v":33},{"s":"b","t":14,"v":26},{"s":"b","t":16,"v":10},{"s":"b","t":18,"v":7},{"s":"b","t":20,"v":7},{"s":"b","t":22,"v":1},{"s":"b","t":24,"v":4},{"s":"b","t":26,"v":6},{"s":"b","t":28,"v":1},{"s":"b","t":30,"v":2},{"s":"b","t":32,"v":4},{"s":"b","t":34,"v":1},{"s":"b","t":36,"v":6},{"s":"b","t":38,"v":3},
{"s":"c","t":0.4,"v":138},{"s":"c","t":0.8,"v":209},{"s":"c","t":1.2,"v":245},{"s":"c","t":1.6,"v":237},{"s":"c","t":2,"v":272},{"s":"c","t":2.4,"v":257},{"s":"c","t":2.8,"v":250},{"s":"c","t":3.2,"v":268},{"s":"c","t":3.6,"v":236},{"s":"c","t":4,"v":250},{"s":"c","t":4.4,"v":237},{"s":"c","t":4.8,"v":241},{"s":"c","t":5.2,"v":211},{"s":"c","t":5.6,"v":196},{"s":"c","t":6,"v":199},{"s":"c","t":6.4,"v":196},{"s":"c","t":6.8,"v":168},{"s":"c","t":7.2,"v":151},{"s":"c","t":7.6,"v":147},{"s":"c","t":8,"v":140},{"s":"c","t":8.4,"v":113},{"s":"c","t":8.8,"v":117},{"s":"c","t":9.2,"v":102},{"s":"c","t":9.6,"v":100},{"s":"c","t":10,"v":79},{"s":"c","t":10.4,"v":79},{"s":"c","t":10.8,"v":66},{"s":"c","t":11.2,"v":68},{"s":"c","t":11.6,"v":54},{"s":"c","t":12,"v":45},{"s":"c","t":12.6,"v":43},{"s":"c","t":14,"v":27},{"s":"c","t":16,"v":16},{"s":"c","t":18,"v":8},{"s":"c","t":20,"v":8},{"s":"c","t":22,"v":2},{"s":"c","t":24,"v":5},{"s":"c","t":26,"v":3},{"s":"c","t":28,"v":6},{"s":"c","t":30,"v":1},{"s":"c","t":32,"v":2},{"s":"c","t":34,"v":4},{"s":"c","t":36,"v":0},{"s":"c","t":38,"v":3},
{"s":"m","t":0.4,"v":180},{"s":"m","t":0.8,"v":237},{"s":"m","t":1.2,"v":274},{"s":"m","t":1.6,"v":301},{"s":"m","t":2,"v":276},{"s":"m","t":2.4,"v":304},{"s":"m","t":2.8,"v":317},{"s":"m","t":3.2,"v":289},{"s":"m","t":3.6,"v":289},{"s":"m","t":4,"v":295},{"s":"m","t":4.4,"v":262},{"s":"m","t":4.8,"v":282},{"s":"m","t":5.2,"v":252},{"s":"m","t":5.6,"v":232},{"s":"m","t":6,"v":236},{"s":"m","t":6.4,"v":198},{"s":"m","t":6.8,"v":202},{"s":"m","t":7.2,"v":184},{"s":"m","t":7.6,"v":180},{"s":"m","t":8,"v":151},{"s":"m","t":8.4,"v":136},{"s":"m","t":8.8,"v":135},{"s":"m","t":9.2,"v":130},{"s":"m","t":9.6,"v":108},{"s":"m","t":10,"v":94},{"s":"m","t":10.4,"v":90},{"s":"m","t":10.8,"v":85},{"s":"m","t":11.2,"v":65},{"s":"m","t":11.6,"v":68},{"s":"m","t":12,"v":57},{"s":"m","t":12.6,"v":52},{"s":"m","t":14,"v":27},{"s":"m","t":16,"v":18},{"s":"m","t":18,"v":9},{"s":"m","t":20,"v":9},{"s":"m","t":22,"v":4},{"s":"m","t":24,"v":2},{"s":"m","t":26,"v":5},{"s":"m","t":28,"v":3},{"s":"m","t":30,"v":3},{"s":"m","t":32,"v":2},{"s":"m","t":34,"v":5},{"s":"m","t":36,"v":0},{"s":"m","t":38,"v":4}
],
"ca":[
{"s":"k","t":0.05,"v":1},{"s":"k","t":0.2,"v":5},{"s":"k","t":0.6,"v":11.4},{"s":"k","t":1,"v":15.1},{"s":"k","t":1.4,"v":17.6},{"s":"k","t":2,"v":19.9},{"s":"k","t":3,"v":21.6},{"s":"k","t":4,"v":22.6},{"s":"k","t":5,"v":23},{"s":"k","t":6,"v":22.9},{"s":"k","t":7,"v":22.7},{"s":"k","t":8,"v":22.2},{"s":"k","t":9,"v":21.6},{"s":"k","t":10,"v":20.9},{"s":"k","t":11,"v":20.3},{"s":"k","t":12,"v":19.6},{"s":"k","t":13,"v":19},{"s":"k","t":14,"v":18.3},{"s":"k","t":16,"v":17.2},{"s":"k","t":18,"v":16},{"s":"k","t":20,"v":14.9},{"s":"k","t":23,"v":13.8},{"s":"k","t":27,"v":12.5},{"s":"k","t":31,"v":11.7},{"s":"k","t":35,"v":11.1},{"s":"k","t":39.2,"v":10.7},
{"s":"r","t":0.05,"v":1},{"s":"r","t":0.2,"v":10},{"s":"r","t":0.6,"v":23.5},{"s":"r","t":1,"v":31.7},{"s":"r","t":1.4,"v":36.4},{"s":"r","t":2,"v":41.5},{"s":"r","t":3,"v":44.7},{"s":"r","t":4,"v":44.8},{"s":"r","t":5,"v":43.6},{"s":"r","t":6,"v":41.2},{"s":"r","t":7,"v":38.5},{"s":"r","t":8,"v":35.9},{"s":"r","t":9,"v":33.3},{"s":"r","t":10,"v":30.8},{"s":"r","t":11,"v":28.4},{"s":"r","t":12,"v":26.1},{"s":"r","t":13,"v":24},{"s":"r","t":14,"v":22.3},{"s":"r","t":16,"v":19.3},{"s":"r","t":18,"v":16.7},{"s":"r","t":20,"v":14.9},{"s":"r","t":23,"v":13.1},{"s":"r","t":27,"v":11.7},{"s":"r","t":31,"v":10.9},{"s":"r","t":35,"v":10.5},{"s":"r","t":39.2,"v":10.3},
{"s":"g","t":0.05,"v":1},{"s":"g","t":0.2,"v":17.8},{"s":"g","t":0.6,"v":40.4},{"s":"g","t":1,"v":54},{"s":"g","t":1.4,"v":63},{"s":"g","t":2,"v":69.9},{"s":"g","t":3,"v":73},{"s":"g","t":4,"v":71.1},{"s":"g","t":5,"v":66.1},{"s":"g","t":6,"v":60.4},{"s":"g","t":7,"v":54.7},{"s":"g","t":8,"v":49.1},{"s":"g","t":9,"v":44},{"s":"g","t":10,"v":39},{"s":"g","t":11,"v":34.6},{"s":"g","t":12,"v":30.8},{"s":"g","t":13,"v":27.6},{"s":"g","t":14,"v":24.5},{"s":"g","t":16,"v":20.1},{"s":"g","t":18,"v":16.9},{"s":"g","t":20,"v":14.7},{"s":"g","t":23,"v":12.7},{"s":"g","t":27,"v":11.3},{"s":"g","t":31,"v":10.6},{"s":"g","t":35,"v":10.3},{"s":"g","t":39.2,"v":10.1},
{"s":"b","t":0.05,"v":1},{"s":"b","t":0.2,"v":25.8},{"s":"b","t":0.6,"v":58.9},{"s":"b","t":1,"v":79.2},{"s":"b","t":1.4,"v":92.7},{"s":"b","t":2,"v":103.1},{"s":"b","t":3,"v":108},{"s":"b","t":4,"v":105.1},{"s":"b","t":5,"v":97.2},{"s":"b","t":6,"v":88.4},{"s":"b","t":7,"v":79.6},{"s":"b","t":8,"v":70.8},{"s":"b","t":9,"v":62.9},{"s":"b","t":10,"v":55.1},{"s":"b","t":11,"v":48.2},{"s":"b","t":12,"v":42.3},{"s":"b","t":13,"v":37.4},{"s":"b","t":14,"v":32.5},{"s":"b","t":16,"v":25.7},{"s":"b","t":18,"v":20.8},{"s":"b","t":20,"v":17.4},{"s":"b","t":23,"v":14.2},{"s":"b","t":27,"v":12.1},{"s":"b","t":31,"v":11},{"s":"b","t":35,"v":10.5},{"s":"b","t":39.2,"v":10.2},
{"s":"c","t":0.05,"v":1},{"s":"c","t":0.2,"v":30.2},{"s":"c","t":0.6,"v":69},{"s":"c","t":1,"v":92.8},{"s":"c","t":1.4,"v":108.9},{"s":"c","t":2,"v":121.2},{"s":"c","t":3,"v":127},{"s":"c","t":4,"v":123.5},{"s":"c","t":5,"v":114.1},{"s":"c","t":6,"v":103.6},{"s":"c","t":7,"v":93.1},{"s":"c","t":8,"v":82.5},{"s":"c","t":9,"v":73.2},{"s":"c","t":10,"v":63.8},{"s":"c","t":11,"v":55.6},{"s":"c","t":12,"v":48.6},{"s":"c","t":13,"v":42.8},{"s":"c","t":14,"v":36.9},{"s":"c","t":16,"v":28.7},{"s":"c","t":18,"v":22.9},{"s":"c","t":20,"v":18.8},{"s":"c","t":23,"v":15},{"s":"c","t":27,"v":12.5},{"s":"c","t":31,"v":11.2},{"s":"c","t":35,"v":10.6},{"s":"c","t":39.2,"v":10.2},
{"s":"m","t":0.05,"v":1},{"s":"m","t":0.2,"v":35.5},{"s":"m","t":0.6,"v":81.2},{"s":"m","t":1,"v":109.4},{"s":"m","t":1.4,"v":128.4},{"s":"m","t":2,"v":143},{"s":"m","t":3,"v":150},{"s":"m","t":4,"v":145.8},{"s":"m","t":5,"v":134.6},{"s":"m","t":6,"v":122},{"s":"m","t":7,"v":109.4},{"s":"m","t":8,"v":96.8},{"s":"m","t":9,"v":85.6},{"s":"m","t":10,"v":74.4},{"s":"m","t":11,"v":64.6},{"s":"m","t":12,"v":56.2},{"s":"m","t":13,"v":49.2},{"s":"m","t":14,"v":42.2},{"s":"m","t":16,"v":32.4},{"s":"m","t":18,"v":25.4},{"s":"m","t":20,"v":20.5},{"s":"m","t":23,"v":16},{"s":"m","t":27,"v":12.9},{"s":"m","t":31,"v":11.4},{"s":"m","t":35,"v":10.7},{"s":"m","t":39.2,"v":10.3}
],
"cb":[
{"s":"k","t":0.1,"v":2},{"s":"k","t":0.3,"v":8.1},{"s":"k","t":0.5,"v":11.3},{"s":"k","t":1,"v":15.8},{"s":"k","t":1.5,"v":17.6},{"s":"k","t":2,"v":18.4},{"s":"k","t":2.8,"v":18.8},{"s":"k","t":4,"v":19},{"s":"k","t":5,"v":18.4},{"s":"k","t":6,"v":17.3},{"s":"k","t":7,"v":16.1},{"s":"k","t":8,"v":14.7},{"s":"k","t":9,"v":13.2},{"s":"k","t":10,"v":11.7},{"s":"k","t":11,"v":10.4},{"s":"k","t":12,"v":9.2},{"s":"k","t":13,"v":8.1},{"s":"k","t":14,"v":7.2},{"s":"k","t":16,"v":5.6},{"s":"k","t":18,"v":4.6},{"s":"k","t":21,"v":3.7},{"s":"k","t":26,"v":3.2},{"s":"k","t":39.2,"v":3},
{"s":"r","t":0.1,"v":2},{"s":"r","t":0.3,"v":30.9},{"s":"r","t":0.5,"v":51.4},{"s":"r","t":1,"v":73.5},{"s":"r","t":1.5,"v":79.7},{"s":"r","t":2,"v":83},{"s":"r","t":2.8,"v":84.8},{"s":"r","t":4,"v":83.4},{"s":"r","t":5,"v":78.4},{"s":"r","t":6,"v":71.9},{"s":"r","t":7,"v":63.7},{"s":"r","t":8,"v":55},{"s":"r","t":9,"v":46.5},{"s":"r","t":10,"v":39.1},{"s":"r","t":11,"v":32.5},{"s":"r","t":12,"v":26.4},{"s":"r","t":13,"v":21.5},{"s":"r","t":14,"v":16.9},{"s":"r","t":16,"v":10.9},{"s":"r","t":18,"v":7.3},{"s":"r","t":21,"v":4.8},{"s":"r","t":26,"v":3.5},{"s":"r","t":39.2,"v":3},
{"s":"g","t":0.1,"v":2},{"s":"g","t":0.3,"v":64.3},{"s":"g","t":0.5,"v":99.4},{"s":"g","t":1,"v":133},{"s":"g","t":1.5,"v":143.2},{"s":"g","t":2,"v":147.5},{"s":"g","t":2.8,"v":149},{"s":"g","t":4,"v":141.7},{"s":"g","t":5,"v":128.6},{"s":"g","t":6,"v":112.5},{"s":"g","t":7,"v":95},{"s":"g","t":8,"v":77.5},{"s":"g","t":9,"v":62.9},{"s":"g","t":10,"v":49.7},{"s":"g","t":11,"v":38.8},{"s":"g","t":12,"v":29.3},{"s":"g","t":13,"v":22},{"s":"g","t":14,"v":16.6},{"s":"g","t":16,"v":9.9},{"s":"g","t":18,"v":6.5},{"s":"g","t":21,"v":4.3},{"s":"g","t":26,"v":3.3},{"s":"g","t":39.2,"v":3},
{"s":"b","t":0.1,"v":2},{"s":"b","t":0.3,"v":88.3},{"s":"b","t":0.5,"v":137},{"s":"b","t":1,"v":183.7},{"s":"b","t":1.5,"v":197.9},{"s":"b","t":2,"v":204},{"s":"b","t":2.8,"v":206},{"s":"b","t":4,"v":195.9},{"s":"b","t":5,"v":177.6},{"s":"b","t":6,"v":155.3},{"s":"b","t":7,"v":130.9},{"s":"b","t":8,"v":106.5},{"s":"b","t":9,"v":86.2},{"s":"b","t":10,"v":68},{"s":"b","t":11,"v":52.7},{"s":"b","t":12,"v":39.5},{"s":"b","t":13,"v":29.4},{"s":"b","t":14,"v":21.9},{"s":"b","t":16,"v":12.5},{"s":"b","t":18,"v":7.9},{"s":"b","t":21,"v":4.8},{"s":"b","t":26,"v":3.4},{"s":"b","t":39.2,"v":3},
{"s":"c","t":0.1,"v":2},{"s":"c","t":0.3,"v":110.5},{"s":"c","t":0.5,"v":172},{"s":"c","t":1,"v":230.8},{"s":"c","t":1.5,"v":248.8},{"s":"c","t":2,"v":256.4},{"s":"c","t":2.8,"v":259},{"s":"c","t":4,"v":246.2},{"s":"c","t":5,"v":223.2},{"s":"c","t":6,"v":195},{"s":"c","t":7,"v":164.3},{"s":"c","t":8,"v":133.6},{"s":"c","t":9,"v":108},{"s":"c","t":10,"v":84.9},{"s":"c","t":11,"v":65.7},{"s":"c","t":12,"v":49.1},{"s":"c","t":13,"v":36.3},{"s":"c","t":14,"v":26.8},{"s":"c","t":16,"v":15},{"s":"c","t":18,"v":9.1},{"s":"c","t":21,"v":5.3},{"s":"c","t":26,"v":3.5},{"s":"c","t":39.2,"v":3},
{"s":"m","t":0.1,"v":2},{"s":"m","t":0.3,"v":128.6},{"s":"m","t":0.5,"v":200.3},{"s":"m","t":1,"v":269.1},{"s":"m","t":1.5,"v":290},{"s":"m","t":2,"v":299},{"s":"m","t":2.8,"v":302},{"s":"m","t":4,"v":287},{"s":"m","t":5,"v":260},{"s":"m","t":6,"v":227},{"s":"m","t":7,"v":191},{"s":"m","t":8,"v":155.5},{"s":"m","t":9,"v":125.6},{"s":"m","t":10,"v":98.7},{"s":"m","t":11,"v":76.3},{"s":"m","t":12,"v":56.8},{"s":"m","t":13,"v":41.9},{"s":"m","t":14,"v":30.8},{"s":"m","t":16,"v":17.1},{"s":"m","t":18,"v":10.2},{"s":"m","t":21,"v":5.7},{"s":"m","t":26,"v":3.6},{"s":"m","t":39.2,"v":3}
],
"ia":[
{"s":"k","t":0,"v":0.0102},{"s":"k","t":0.5,"v":0.00982},{"s":"k","t":1,"v":0.0102},{"s":"k","t":1.5,"v":0.00979},{"s":"k","t":2,"v":0.00983},{"s":"k","t":2.5,"v":0.00943},{"s":"k","t":3,"v":0.00981},{"s":"k","t":3.5,"v":0.00963},{"s":"k","t":4,"v":0.00936},{"s":"k","t":4.5,"v":0.00972},{"s":"k","t":5,"v":0.0093},{"s":"k","t":5.5,"v":0.00907},{"s":"k","t":6,"v":0.00935},{"s":"k","t":6.5,"v":0.0092},{"s":"k","t":7,"v":0.00894},{"s":"k","t":7.5,"v":0.00918},{"s":"k","t":8,"v":0.00868},{"s":"k","t":8.5,"v":0.00886},{"s":"k","t":9,"v":0.00889},{"s":"k","t":9.5,"v":0.00855},{"s":"k","t":10,"v":0.00888},{"s":"k","t":10.5,"v":0.00852},{"s":"k","t":11,"v":0.0085},{"s":"k","t":11.5,"v":0.00824},{"s":"k","t":12,"v":0.00847},{"s":"k","t":12.5,"v":0.00848},{"s":"k","t":13,"v":0.00816},{"s":"k","t":13.5,"v":0.00795},{"s":"k","t":14,"v":0.00816},{"s":"k","t":14.5,"v":0.00819},{"s":"k","t":15,"v":0.00797},{"s":"k","t":15.5,"v":0.00779},{"s":"k","t":16,"v":0.0081},{"s":"k","t":16.5,"v":0.00771},{"s":"k","t":17,"v":0.00777},{"s":"k","t":17.5,"v":0.00753},{"s":"k","t":18,"v":0.0078},{"s":"k","t":18.5,"v":0.0075},{"s":"k","t":19,"v":0.00761},{"s":"k","t":19.5,"v":0.00726},{"s":"k","t":20,"v":0.00745},{"s":"k","t":20.5,"v":0.00749},{"s":"k","t":21,"v":0.00717},{"s":"k","t":21.5,"v":0.00723},{"s":"k","t":22,"v":0.00713},{"s":"k","t":22.5,"v":0.00718},{"s":"k","t":23,"v":0.00691},{"s":"k","t":23.5,"v":0.00718},{"s":"k","t":24,"v":0.00688},{"s":"k","t":24.5,"v":0.00692},{"s":"k","t":25,"v":0.00663},{"s":"k","t":25.5,"v":0.0069},{"s":"k","t":26,"v":0.00676},{"s":"k","t":26.5,"v":0.00658},{"s":"k","t":27,"v":0.00683},{"s":"k","t":27.5,"v":0.00654},{"s":"k","t":28,"v":0.00638},{"s":"k","t":28.5,"v":0.00657},{"s":"k","t":29,"v":0.00647},{"s":"k","t":29.5,"v":0.00629},{"s":"k","t":30,"v":0.00646},{"s":"k","t":30.5,"v":0.00611},{"s":"k","t":31,"v":0.00623},{"s":"k","t":31.5,"v":0.00626},{"s":"k","t":32,"v":0.00601},{"s":"k","t":32.5,"v":0.00625},{"s":"k","t":33,"v":0.00599},{"s":"k","t":33.5,"v":0.00598},{"s":"k","t":34,"v":0.00579},{"s":"k","t":34.5,"v":0.00596},{"s":"k","t":35,"v":0.00596},{"s":"k","t":35.5,"v":0.00574},{"s":"k","t":36,"v":0.00559},{"s":"k","t":36.5,"v":0.00574},{"s":"k","t":37,"v":0.00576},{"s":"k","t":37.5,"v":0.00561},{"s":"k","t":38,"v":0.00548},{"s":"k","t":38.5,"v":0.0057},{"s":"k","t":39,"v":0.00542},{"s":"k","t":39.5,"v":0.00546},{"s":"k","t":40,"v":0.00529},
{"s":"k","t":0.25,"v":0.01006},{"s":"k","t":1.25,"v":0.0102},{"s":"k","t":2.25,"v":0.0096},{"s":"k","t":3.25,"v":0.00936},{"s":"k","t":4.25,"v":0.00957},{"s":"k","t":5.25,"v":0.00963},{"s":"k","t":6.25,"v":0.00909},{"s":"k","t":7.25,"v":0.00881},{"s":"k","t":8.25,"v":0.0089},{"s":"k","t":9.25,"v":0.00891},{"s":"k","t":10.25,"v":0.00828},{"s":"k","t":11.25,"v":0.0086},{"s":"k","t":12.25,"v":0.0083},{"s":"k","t":13.25,"v":0.00842},{"s":"k","t":14.25,"v":0.00784},{"s":"k","t":15.25,"v":0.00803},{"s":"k","t":16.25,"v":0.00769},{"s":"k","t":17.25,"v":0.00796},{"s":"k","t":18.25,"v":0.00751},{"s":"k","t":19.25,"v":0.00726},{"s":"k","t":20.25,"v":0.00749},{"s":"k","t":21.25,"v":0.00723},{"s":"k","t":22.25,"v":0.00717},{"s":"k","t":23.25,"v":0.00693},{"s":"k","t":24.25,"v":0.00708},{"s":"k","t":25.25,"v":0.00658},{"s":"k","t":26.25,"v":0.00677},{"s":"k","t":27.25,"v":0.00656},{"s":"k","t":28.25,"v":0.00673},{"s":"k","t":29.25,"v":0.00625},{"s":"k","t":30.25,"v":0.00624},{"s":"k","t":31.25,"v":0.0063},{"s":"k","t":32.25,"v":0.00586},{"s":"k","t":33.25,"v":0.00603},{"s":"k","t":34.25,"v":0.00607},{"s":"k","t":35.25,"v":0.0057},{"s":"k","t":36.25,"v":0.00567},{"s":"k","t":37.25,"v":0.00572},{"s":"k","t":38.25,"v":0.0054},{"s":"k","t":39.25,"v":0.00565},
{"s":"m","t":0,"v":0.00921},{"s":"m","t":0.5,"v":0.00863},{"s":"m","t":1,"v":0.00843},{"s":"m","t":1.5,"v":0.00807},{"s":"m","t":2,"v":0.00832},{"s":"m","t":2.5,"v":0.0083},{"s":"m","t":3,"v":0.0079},{"s":"m","t":3.5,"v":0.00762},{"s":"m","t":4,"v":0.00786},{"s":"m","t":4.5,"v":0.00784},{"s":"m","t":5,"v":0.00752},{"s":"m","t":5.5,"v":0.00726},{"s":"m","t":6,"v":0.00755},{"s":"m","t":6.5,"v":0.0071},{"s":"m","t":7,"v":0.00719},{"s":"m","t":7.5,"v":0.00688},{"s":"m","t":8,"v":0.00718},{"s":"m","t":8.5,"v":0.00681},{"s":"m","t":9,"v":0.00691},{"s":"m","t":9.5,"v":0.00653},{"s":"m","t":10,"v":0.00677},{"s":"m","t":10.5,"v":0.00681},{"s":"m","t":11,"v":0.00645},{"s":"m","t":11.5,"v":0.00651},{"s":"m","t":12,"v":0.00639},{"s":"m","t":12.5,"v":0.00643},{"s":"m","t":13,"v":0.00612},{"s":"m","t":13.5,"v":0.00641},{"s":"m","t":14,"v":0.00609},{"s":"m","t":14.5,"v":0.00612},{"s":"m","t":15,"v":0.0058},{"s":"m","t":15.5,"v":0.00611},{"s":"m","t":16,"v":0.00596},{"s":"m","t":16.5,"v":0.00576},{"s":"m","t":17,"v":0.00604},{"s":"m","t":17.5,"v":0.00572},{"s":"m","t":18,"v":0.00554},{"s":"m","t":18.5,"v":0.00575},{"s":"m","t":19,"v":0.00565},{"s":"m","t":19.5,"v":0.00546},{"s":"m","t":20,"v":0.00563},{"s":"m","t":20.5,"v":0.00525},{"s":"m","t":21,"v":0.00539},{"s":"m","t":21.5,"v":0.00542},{"s":"m","t":22,"v":0.00516},{"s":"m","t":22.5,"v":0.00541},{"s":"m","t":23,"v":0.00514},{"s":"m","t":23.5,"v":0.00513},{"s":"m","t":24,"v":0.00493},{"s":"m","t":24.5,"v":0.00511},{"s":"m","t":25,"v":0.0051},{"s":"m","t":25.5,"v":0.00487},{"s":"m","t":26,"v":0.00472},{"s":"m","t":26.5,"v":0.00488},{"s":"m","t":27,"v":0.00491},{"s":"m","t":27.5,"v":0.00474},{"s":"m","t":28,"v":0.00462},{"s":"m","t":28.5,"v":0.00483},{"s":"m","t":29,"v":0.00455},{"s":"m","t":29.5,"v":0.00459},{"s":"m","t":30,"v":0.00442},{"s":"m","t":30.5,"v":0.00462},{"s":"m","t":31,"v":0.0044},{"s":"m","t":31.5,"v":0.00448},{"s":"m","t":32,"v":0.00422},{"s":"m","t":32.5,"v":0.00436},{"s":"m","t":33,"v":0.0044},{"s":"m","t":33.5,"v":0.00417},{"s":"m","t":34,"v":0.00421},{"s":"m","t":34.5,"v":0.00414},{"s":"m","t":35,"v":0.00417},{"s":"m","t":35.5,"v":0.00398},{"s":"m","t":36,"v":0.00417},{"s":"m","t":36.5,"v":0.00396},{"s":"m","t":37,"v":0.00398},{"s":"m","t":37.5,"v":0.00378},{"s":"m","t":38,"v":0.00398},{"s":"m","t":38.5,"v":0.00388},{"s":"m","t":39,"v":0.00375},{"s":"m","t":39.5,"v":0.00393},{"s":"m","t":40,"v":0.00372},
{"s":"m","t":0.25,"v":0.00862},{"s":"m","t":1.25,"v":0.00877},{"s":"m","t":2.25,"v":0.00811},{"s":"m","t":3.25,"v":0.00771},{"s":"m","t":4.25,"v":0.00793},{"s":"m","t":5.25,"v":0.00758},{"s":"m","t":6.25,"v":0.00712},{"s":"m","t":7.25,"v":0.00733},{"s":"m","t":8.25,"v":0.00669},{"s":"m","t":9.25,"v":0.00678},{"s":"m","t":10.25,"v":0.0068},{"s":"m","t":11.25,"v":0.00637},{"s":"m","t":12.25,"v":0.00664},{"s":"m","t":13.25,"v":0.0062},{"s":"m","t":14.25,"v":0.00612},{"s":"m","t":15.25,"v":0.0058},{"s":"m","t":16.25,"v":0.00599},{"s":"m","t":17.25,"v":0.00594},{"s":"m","t":18.25,"v":0.00559},{"s":"m","t":19.25,"v":0.00534},{"s":"m","t":20.25,"v":0.00549},{"s":"m","t":21.25,"v":0.00548},{"s":"m","t":22.25,"v":0.00523},{"s":"m","t":23.25,"v":0.00504},{"s":"m","t":24.25,"v":0.00526},{"s":"m","t":25.25,"v":0.00487},{"s":"m","t":26.25,"v":0.0049},{"s":"m","t":27.25,"v":0.00465},{"s":"m","t":28.25,"v":0.00485},{"s":"m","t":29.25,"v":0.00455},{"s":"m","t":30.25,"v":0.0046},{"s":"m","t":31.25,"v":0.00426},{"s":"m","t":32.25,"v":0.00439},{"s":"m","t":33.25,"v":0.00439},{"s":"m","t":34.25,"v":0.0041},{"s":"m","t":35.25,"v":0.00411},{"s":"m","t":36.25,"v":0.004},{"s":"m","t":37.25,"v":0.004},{"s":"m","t":38.25,"v":0.00376},{"s":"m","t":39.25,"v":0.00394}
],
"fa":[
{"s":"k","t":0,"v":0.0101},{"s":"k","t":20,"v":0.00739},{"s":"k","t":40,"v":0.0054},
{"s":"m","t":0.7,"v":0.0085},{"s":"m","t":2,"v":0.0082},{"s":"m","t":4,"v":0.0078},{"s":"m","t":7,"v":0.00715},{"s":"m","t":10,"v":0.0067},{"s":"m","t":14,"v":0.00615},{"s":"m","t":20,"v":0.00548},{"s":"m","t":25,"v":0.00498},{"s":"m","t":30,"v":0.00453},{"s":"m","t":35,"v":0.00412},{"s":"m","t":40,"v":0.00374}
],
"ib":[
{"s":"k","t":0.03,"v":0.0016},{"s":"k","t":0.05,"v":0.0106},{"s":"k","t":0.07,"v":0.00053},{"s":"k","t":0.1,"v":0.0032},
{"s":"k","t":0.15,"v":0.00853},{"s":"k","t":0.3,"v":0.00814},{"s":"k","t":0.45,"v":0.009},{"s":"k","t":0.6,"v":0.00713},{"s":"k","t":0.75,"v":0.0061},{"s":"k","t":0.9,"v":0.00638},{"s":"k","t":1.05,"v":0.00478},{"s":"k","t":1.2,"v":0.00496},{"s":"k","t":1.35,"v":0.00484},{"s":"k","t":1.5,"v":0.00374},{"s":"k","t":1.65,"v":0.00446},{"s":"k","t":1.8,"v":0.00334},{"s":"k","t":1.95,"v":0.00318},{"s":"k","t":2.1,"v":0.00246},{"s":"k","t":2.25,"v":0.00292},{"s":"k","t":2.4,"v":0.00286},{"s":"k","t":2.55,"v":0.00207},{"s":"k","t":2.7,"v":0.00162},{"s":"k","t":2.85,"v":0.00199},{"s":"k","t":3,"v":0.00205},{"s":"k","t":3.15,"v":0.00156},{"s":"k","t":3.3,"v":0.00124},{"s":"k","t":3.45,"v":0.00183},{"s":"k","t":3.6,"v":0.00107},{"s":"k","t":3.75,"v":0.00117},{"s":"k","t":3.9,"v":0.000815},{"s":"k","t":4.05,"v":0.00126},{"s":"k","t":4.2,"v":0.000783},{"s":"k","t":4.35,"v":0.000947},{"s":"k","t":4.5,"v":0.000516},{"s":"k","t":4.65,"v":0.000742},{"s":"k","t":4.8,"v":0.000829},{"s":"k","t":4.95,"v":0.000458},{"s":"k","t":5.1,"v":0.000528},{"s":"k","t":5.25,"v":0.000443},{"s":"k","t":5.4,"v":0.000503},{"s":"k","t":5.55,"v":0.000288},{"s":"k","t":5.7,"v":0.000552},{"s":"k","t":5.85,"v":0.000291},{"s":"k","t":6,"v":0.000326},
{"s":"k","t":0.225,"v":0.00856},{"s":"k","t":0.375,"v":0.00824},{"s":"k","t":0.525,"v":0.00832},{"s":"k","t":0.675,"v":0.00639},{"s":"k","t":0.825,"v":0.00619},{"s":"k","t":0.975,"v":0.00514},{"s":"k","t":1.125,"v":0.00573},{"s":"k","t":1.275,"v":0.00452},{"s":"k","t":1.425,"v":0.00465},{"s":"k","t":1.575,"v":0.0034},{"s":"k","t":1.725,"v":0.0038},{"s":"k","t":1.875,"v":0.00383},{"s":"k","t":2.025,"v":0.00277},{"s":"k","t":2.175,"v":0.00283},{"s":"k","t":2.325,"v":0.00248},{"s":"k","t":2.475,"v":0.00254},{"s":"k","t":2.625,"v":0.00182},{"s":"k","t":2.775,"v":0.00248},{"s":"k","t":2.925,"v":0.00168},{"s":"k","t":3.075,"v":0.00172},{"s":"k","t":3.225,"v":0.00113},{"s":"k","t":3.375,"v":0.00168},{"s":"k","t":3.525,"v":0.00136},{"s":"k","t":3.675,"v":0.001},{"s":"k","t":3.825,"v":0.00155},{"s":"k","t":3.975,"v":0.000939},{"s":"k","t":4.125,"v":0.00069},{"s":"k","t":4.275,"v":0.00101},{"s":"k","t":4.425,"v":0.000841},{"s":"k","t":4.575,"v":0.000593},{"s":"k","t":4.725,"v":0.000862},{"s":"k","t":4.875,"v":0.000405},{"s":"k","t":5.025,"v":0.000552},{"s":"k","t":5.175,"v":0.000605},{"s":"k","t":5.325,"v":0.000342},{"s":"k","t":5.475,"v":0.000639},{"s":"k","t":5.625,"v":0.000344},{"s":"k","t":5.775,"v":0.000347},{"s":"k","t":5.925,"v":0.00022},
{"s":"m","t":0.06,"v":0.00083},{"s":"m","t":0.08,"v":0.00028},
{"s":"m","t":0.15,"v":0.00894},{"s":"m","t":0.3,"v":0.00847},{"s":"m","t":0.45,"v":0.00931},{"s":"m","t":0.6,"v":0.00714},{"s":"m","t":0.75,"v":0.00684},{"s":"m","t":0.9,"v":0.00575},{"s":"m","t":1.05,"v":0.00618},{"s":"m","t":1.2,"v":0.00554},{"s":"m","t":1.35,"v":0.00478},{"s":"m","t":1.5,"v":0.00532},{"s":"m","t":1.65,"v":0.00428},{"s":"m","t":1.8,"v":0.00366},{"s":"m","t":1.95,"v":0.00405},{"s":"m","t":2.1,"v":0.00363},{"s":"m","t":2.25,"v":0.00304},{"s":"m","t":2.4,"v":0.0034},{"s":"m","t":2.55,"v":0.00241},{"s":"m","t":2.7,"v":0.00263},{"s":"m","t":2.85,"v":0.00264},{"s":"m","t":3,"v":0.00199},{"s":"m","t":3.15,"v":0.00252},{"s":"m","t":3.3,"v":0.00186},{"s":"m","t":3.45,"v":0.0018},{"s":"m","t":3.6,"v":0.00139},{"s":"m","t":3.75,"v":0.00171},{"s":"m","t":3.9,"v":0.0017},{"s":"m","t":4.05,"v":0.00123},{"s":"m","t":4.2,"v":0.000978},{"s":"m","t":4.35,"v":0.00122},{"s":"m","t":4.5,"v":0.00127},{"s":"m","t":4.65,"v":0.00098},{"s":"m","t":4.8,"v":0.000795},{"s":"m","t":4.95,"v":0.00116},{"s":"m","t":5.1,"v":0.000709},{"s":"m","t":5.25,"v":0.000776},{"s":"m","t":5.4,"v":0.000558},{"s":"m","t":5.55,"v":0.000836},{"s":"m","t":5.7,"v":0.000546},{"s":"m","t":5.85,"v":0.000651},{"s":"m","t":6,"v":0.00038},
{"s":"m","t":0.225,"v":0.00874},{"s":"m","t":0.375,"v":0.00884},{"s":"m","t":0.525,"v":0.00769},{"s":"m","t":0.675,"v":0.00742},{"s":"m","t":0.825,"v":0.00667},{"s":"m","t":0.975,"v":0.0056},{"s":"m","t":1.125,"v":0.0059},{"s":"m","t":1.275,"v":0.00508},{"s":"m","t":1.425,"v":0.00533},{"s":"m","t":1.575,"v":0.00416},{"s":"m","t":1.725,"v":0.00427},{"s":"m","t":1.875,"v":0.00369},{"s":"m","t":2.025,"v":0.00419},{"s":"m","t":2.175,"v":0.0031},{"s":"m","t":2.325,"v":0.00309},{"s":"m","t":2.475,"v":0.00321},{"s":"m","t":2.625,"v":0.00279},{"s":"m","t":2.775,"v":0.00211},{"s":"m","t":2.925,"v":0.00218},{"s":"m","t":3.075,"v":0.00247},{"s":"m","t":3.225,"v":0.00218},{"s":"m","t":3.375,"v":0.00157},{"s":"m","t":3.525,"v":0.00173},{"s":"m","t":3.675,"v":0.00154},{"s":"m","t":3.825,"v":0.00187},{"s":"m","t":3.975,"v":0.0012},{"s":"m","t":4.125,"v":0.00146},{"s":"m","t":4.275,"v":0.00122},{"s":"m","t":4.425,"v":0.000882},{"s":"m","t":4.575,"v":0.00127},{"s":"m","t":4.725,"v":0.000859},{"s":"m","t":4.875,"v":0.000967},{"s":"m","t":5.025,"v":0.000976},{"s":"m","t":5.175,"v":0.000615},{"s":"m","t":5.325,"v":0.000688},{"s":"m","t":5.475,"v":0.000943},{"s":"m","t":5.625,"v":0.00053},{"s":"m","t":5.775,"v":0.000616},{"s":"m","t":5.925,"v":0.000659}
],
"fb":[
{"s":"k","t":0.6,"v":0.00695},{"s":"k","t":3.3,"v":0.001455},{"s":"k","t":6,"v":0.000305},
{"s":"m","t":0.54,"v":0.0075},{"s":"m","t":3.27,"v":0.001965},{"s":"m","t":6,"v":0.000514}
],
"lab":[
{"p":"A","t":1.74,"v":312,"txt":"A"},{"p":"A","t":1.37,"v":285,"txt":"C450A"},
{"p":"B","t":6.8,"v":309,"txt":"B"},{"p":"B","t":6.8,"v":279.5,"txt":"wt"}
]
},
"resolve":{"scale":{"x":"independent","y":"independent"},"axis":{"x":"independent","y":"independent"}},
"layer":[
{"data":{"name":"ma"},"mark":{"type":"errorbar","color":"#cccccc","thickness":1.5},
 "encoding":{"x":{"field":"t","type":"quantitative","scale":{"domain":[0,39.2],"range":[0,315],"nice":false,"zero":false},"axis":null},
  "y":{"field":"v","type":"quantitative","scale":{"domain":[0,350],"range":[258,0],"nice":false,"zero":false},"axis":null},
  "yError":{"field":"e"}}},
{"data":{"name":"ma"},"mark":{"type":"square","size":11,"opacity":1,"clip":true},
 "encoding":{"x":{"field":"t","type":"quantitative","scale":{"domain":[0,39.2],"range":[0,315],"nice":false,"zero":false},
   "axis":{"orient":"bottom","values":[0,5,10,15,20,25,30,35],"labelExpr":"datum.value % 10 === 0 ? datum.label : ''","tickSize":{"condition":{"test":"datum.value % 10 === 0","value":5},"value":3},"labelPadding":1,"labelFontSize":11.5,"title":"Time [ x10⁻⁶ s ]","titleFontSize":14,"titleX":157.5,"titleY":35,"titleBaseline":"alphabetic","titleAlign":"center"}},
  "y":{"field":"v","type":"quantitative","scale":{"domain":[0,350],"range":[258,0],"nice":false,"zero":false},
   "axis":{"orient":"left","values":[0,50,100,150,200,250,300],"labelExpr":"datum.value % 100 === 0 ? datum.label : ''","tickSize":{"condition":{"test":"datum.value % 100 === 0","value":5},"value":3},"labelPadding":2,"labelFontSize":11.5,"title":"¹O₂ phosphorescence [ counts ]","titleFontSize":15.5,"titleX":-41.5,"titleY":132,"titleAngle":270,"titleBaseline":"middle","titleAlign":"center"}},
  "color":{"field":"s","type":"nominal","scale":{"domain":["k","r","g","b","c","m"],"range":["#000000","#ff0000","#00ff00","#0000ff","#00ffff","#ff00ff"]},"legend":null}}},
{"data":{"name":"ma2"},"mark":{"type":"square","size":11,"opacity":1,"clip":true},
 "encoding":{"x":{"field":"t","type":"quantitative","scale":{"domain":[0,39.2],"range":[0,315],"nice":false,"zero":false},"axis":null},
  "y":{"field":"v","type":"quantitative","scale":{"domain":[0,350],"range":[258,0],"nice":false,"zero":false},"axis":null},
  "color":{"field":"s","type":"nominal","scale":{"domain":["k","r","g","b","c","m"],"range":["#000000","#ff0000","#00ff00","#0000ff","#00ffff","#ff00ff"]},"legend":null}}},
{"data":{"name":"ca"},"mark":{"type":"line","color":"#000000","strokeWidth":1.3,"interpolate":"monotone","clip":true},
 "encoding":{"x":{"field":"t","type":"quantitative","scale":{"domain":[0,39.2],"range":[0,315],"nice":false,"zero":false},
   "axis":{"orient":"top","values":[0,5,10,15,20,25,30,35],"labels":false,"tickSize":{"condition":{"test":"datum.value % 10 === 0","value":-5},"value":-3},"title":null}},
  "y":{"field":"v","type":"quantitative","scale":{"domain":[0,350],"range":[258,0],"nice":false,"zero":false},
   "axis":{"orient":"right","offset":-316,"values":[0,50,100,150,200,250,300],"labels":false,"tickSize":{"condition":{"test":"datum.value % 100 === 0","value":-5},"value":-3},"title":null}},
  "detail":{"field":"s"}}},
{"data":{"name":"lab"},"transform":[{"filter":"datum.p === 'A'"}],"mark":{"type":"text","align":"left","baseline":"alphabetic","font":"Liberation Sans","color":"#000"},
 "encoding":{"x":{"field":"t","type":"quantitative","scale":{"domain":[0,39.2],"range":[0,315],"nice":false,"zero":false},"axis":null},
  "y":{"field":"v","type":"quantitative","scale":{"domain":[0,350],"range":[258,0],"nice":false,"zero":false},"axis":null},
  "text":{"field":"txt"},"size":{"condition":{"test":"datum.txt === 'A'","value":16},"value":12}}},
{"data":{"name":"mb"},"mark":{"type":"errorbar","color":"#cccccc","thickness":1.5},
 "encoding":{"x":{"field":"t","type":"quantitative","scale":{"domain":[-0.1,39.4],"range":[316,631],"nice":false,"zero":false},"axis":null},
  "y":{"field":"v","type":"quantitative","scale":{"domain":[0,350],"range":[258,0],"nice":false,"zero":false},"axis":null},
  "yError":{"field":"e"}}},
{"data":{"name":"mb"},"mark":{"type":"square","size":11,"opacity":1,"clip":true},
 "encoding":{"x":{"field":"t","type":"quantitative","scale":{"domain":[-0.1,39.4],"range":[316,631],"nice":false,"zero":false},
   "axis":{"orient":"bottom","values":[0,5,10,15,20,25,30,35],"labelExpr":"datum.value % 10 === 0 ? datum.label : ''","tickSize":{"condition":{"test":"datum.value % 10 === 0","value":5},"value":3},"labelPadding":1,"labelFontSize":11.5,"title":"Time [ x10⁻⁶ s ]","titleFontSize":14,"titleX":482.7,"titleY":35,"titleBaseline":"alphabetic","titleAlign":"center"}},
  "y":{"field":"v","type":"quantitative","scale":{"domain":[0,350],"range":[258,0],"nice":false,"zero":false},
   "axis":{"orient":"left","offset":-316,"values":[0,50,100,150,200,250,300],"labels":false,"tickSize":{"condition":{"test":"datum.value % 100 === 0","value":-5},"value":-3},"title":null}},
  "color":{"field":"s","type":"nominal","scale":{"domain":["k","r","g","b","c","m"],"range":["#000000","#ff0000","#00ff00","#0000ff","#00ffff","#ff00ff"]},"legend":null}}},
{"data":{"name":"mb2"},"mark":{"type":"square","size":11,"opacity":1,"clip":true},
 "encoding":{"x":{"field":"t","type":"quantitative","scale":{"domain":[-0.1,39.4],"range":[316,631],"nice":false,"zero":false},"axis":null},
  "y":{"field":"v","type":"quantitative","scale":{"domain":[0,350],"range":[258,0],"nice":false,"zero":false},"axis":null},
  "color":{"field":"s","type":"nominal","scale":{"domain":["k","r","g","b","c","m"],"range":["#000000","#ff0000","#00ff00","#0000ff","#00ffff","#ff00ff"]},"legend":null}}},
{"data":{"name":"cb"},"mark":{"type":"line","color":"#000000","strokeWidth":1.3,"interpolate":"monotone","clip":true},
 "encoding":{"x":{"field":"t","type":"quantitative","scale":{"domain":[-0.1,39.4],"range":[316,631],"nice":false,"zero":false},
   "axis":{"orient":"top","values":[0,5,10,15,20,25,30,35],"labels":false,"tickSize":{"condition":{"test":"datum.value % 10 === 0","value":-5},"value":-3},"title":null}},
  "y":{"field":"v","type":"quantitative","scale":{"domain":[0,350],"range":[258,0],"nice":false,"zero":false},
   "axis":{"orient":"right","values":[0,50,100,150,200,250,300],"labels":false,"tickSize":{"condition":{"test":"datum.value % 100 === 0","value":-5},"value":-3},"title":null}},
  "detail":{"field":"s"}}},
{"data":{"name":"lab"},"transform":[{"filter":"datum.p === 'B'"}],"mark":{"type":"text","align":"left","baseline":"alphabetic","font":"Liberation Sans","color":"#000"},
 "encoding":{"x":{"field":"t","type":"quantitative","scale":{"domain":[-0.1,39.4],"range":[316,631],"nice":false,"zero":false},"axis":null},
  "y":{"field":"v","type":"quantitative","scale":{"domain":[0,350],"range":[258,0],"nice":false,"zero":false},"axis":null},
  "text":{"field":"txt"},"size":{"condition":{"test":"datum.txt === 'B'","value":16},"value":12}}},
{"data":{"name":"ia"},"mark":{"type":"square","size":7,"opacity":1},
 "encoding":{"x":{"field":"t","type":"quantitative","scale":{"domain":[0,40],"range":[129,301],"nice":false,"zero":false},
   "axis":{"orient":"bottom","offset":-73,"values":[0,5,10,15,20,25,30,35,40],"tickSize":3,"labelPadding":6,"labelFontSize":12,"domainColor":"#a0a0a0","tickColor":"#606060","title":"Time [ x10⁻⁶ s ]","titleFontSize":13.5,"titleX":224,"titleY":36,"titleBaseline":"alphabetic","titleAlign":"center"}},
  "y":{"field":"v","type":"quantitative","scale":{"type":"log","domain":[0.00356,0.01175],"range":[185,14],"nice":false},
   "axis":{"orient":"left","offset":-129,"values":[0.004,0.005,0.006,0.007,0.008,0.009,0.01],"labelExpr":"datum.value === 0.01 ? '0.01' : ''","tickSize":{"condition":{"test":"datum.value === 0.01","value":4},"value":2.5},"labelPadding":2,"labelFontSize":12,"domainColor":"#a0a0a0","tickColor":"#606060","title":"Absorbance","titleFontSize":13.5,"titleX":-18,"titleY":101,"titleAngle":270,"titleBaseline":"middle","titleAlign":"center"}},
  "color":{"field":"s","type":"nominal","scale":{"domain":["k","r","g","b","c","m"],"range":["#000000","#ff0000","#00ff00","#0000ff","#00ffff","#ff00ff"]},"legend":null}}},
{"data":{"name":"fa"},"transform":[{"filter":"datum.s === 'k'"}],"mark":{"type":"line","color":"#ffffff","strokeWidth":1.1},
 "encoding":{"x":{"field":"t","type":"quantitative","scale":{"domain":[0,40],"range":[129,301],"nice":false,"zero":false},
   "axis":{"orient":"top","offset":-14,"values":[0,5,10,15,20,25,30,35,40],"labels":false,"tickSize":-3,"domainColor":"#a0a0a0","tickColor":"#606060","title":null}},
  "y":{"field":"v","type":"quantitative","scale":{"type":"log","domain":[0.00356,0.01175],"range":[185,14],"nice":false},
   "axis":{"orient":"right","offset":-330,"values":[0.004,0.005,0.006,0.007,0.008,0.009,0.01],"labels":false,"tickSize":-3,"domainColor":"#a0a0a0","tickColor":"#606060","title":null}}}},
{"data":{"name":"fa"},"transform":[{"filter":"datum.s === 'm'"}],"mark":{"type":"line","color":"#000000","strokeWidth":1.2,"interpolate":"monotone"},
 "encoding":{"x":{"field":"t","type":"quantitative","scale":{"domain":[0,40],"range":[129,301],"nice":false,"zero":false},"axis":null},
  "y":{"field":"v","type":"quantitative","scale":{"type":"log","domain":[0.00356,0.01175],"range":[185,14],"nice":false},"axis":null}}},
{"data":{"name":"ib"},"mark":{"type":"square","size":7,"opacity":1},
 "encoding":{"x":{"field":"t","type":"quantitative","scale":{"domain":[-0.07,6.07],"range":[444,616],"nice":false,"zero":false},
   "axis":{"orient":"bottom","offset":-73,"values":[0,1,2,3,4,5,6],"tickSize":3,"labelPadding":3,"labelFontSize":12,"domainColor":"#a0a0a0","tickColor":"#606060","title":"Time [ x10⁻⁶ s ]","titleFontSize":13.5,"titleX":533.5,"titleY":33.5,"titleBaseline":"alphabetic","titleAlign":"center"}},
  "y":{"field":"v","type":"quantitative","scale":{"type":"log","domain":[0.000214,0.0121],"range":[185,15],"nice":false},
   "axis":{"orient":"left","offset":-444,"values":[0.0003,0.0004,0.0005,0.0006,0.0007,0.0008,0.0009,0.001,0.002,0.003,0.004,0.005,0.006,0.007,0.008,0.009,0.01],"labelExpr":"datum.value === 0.01 ? '0.01' : (datum.value === 0.001 ? '1E-3' : '')","tickSize":{"condition":{"test":"datum.value === 0.01 || datum.value === 0.001","value":4},"value":2.5},"labelPadding":2,"labelFontSize":12,"domainColor":"#a0a0a0","tickColor":"#606060","title":"Absorbance","titleFontSize":13.5,"titleX":-15,"titleY":68,"titleAngle":270,"titleBaseline":"middle","titleAlign":"center"}},
  "color":{"field":"s","type":"nominal","scale":{"domain":["k","r","g","b","c","m"],"range":["#000000","#ff0000","#00ff00","#0000ff","#00ffff","#ff00ff"]},"legend":null}}},
{"data":{"name":"fb"},"transform":[{"filter":"datum.s === 'k'"}],"mark":{"type":"line","color":"#ffffff","strokeWidth":1.1},
 "encoding":{"x":{"field":"t","type":"quantitative","scale":{"domain":[-0.07,6.07],"range":[444,616],"nice":false,"zero":false},
   "axis":{"orient":"top","offset":-15,"values":[0,1,2,3,4,5,6],"labels":false,"tickSize":-3,"domainColor":"#a0a0a0","tickColor":"#606060","title":null}},
  "y":{"field":"v","type":"quantitative","scale":{"type":"log","domain":[0.000214,0.0121],"range":[185,15],"nice":false},
   "axis":{"orient":"right","offset":-15,"values":[0.0003,0.0004,0.0005,0.0006,0.0007,0.0008,0.0009,0.001,0.002,0.003,0.004,0.005,0.006,0.007,0.008,0.009,0.01],"labels":false,"tickSize":-3,"domainColor":"#a0a0a0","tickColor":"#606060","title":null}}}},
{"data":{"name":"fb"},"transform":[{"filter":"datum.s === 'm'"}],"mark":{"type":"line","color":"#000000","strokeWidth":1.2},
 "encoding":{"x":{"field":"t","type":"quantitative","scale":{"domain":[-0.07,6.07],"range":[444,616],"nice":false,"zero":false},"axis":null},
  "y":{"field":"v","type":"quantitative","scale":{"type":"log","domain":[0.000214,0.0121],"range":[185,15],"nice":false},"axis":null}}}
],
"config":{
 "font":"Liberation Sans",
 "view":{"stroke":"#000000","strokeWidth":1.2},
 "axis":{"grid":false,"labelFont":"Liberation Sans","titleFont":"Liberation Sans","labelColor":"#000000","titleColor":"#000000","titleFontWeight":"normal","domainColor":"#000000","tickColor":"#000000","domainWidth":1.2,"tickWidth":1,"labelOverlap":false,"labelFlush":false,"labelBound":false}
}
}
